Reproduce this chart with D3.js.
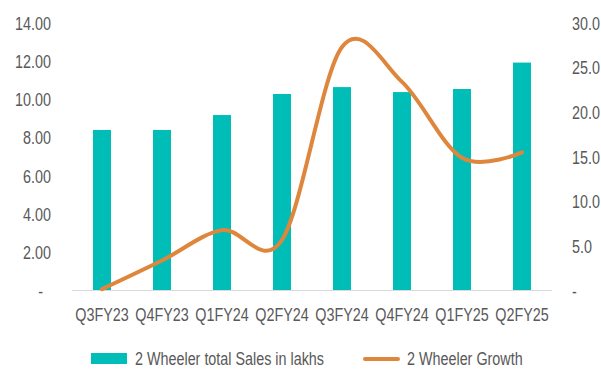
<!DOCTYPE html>
<html>
<head>
<meta charset="utf-8">
<script src="https://cdn.jsdelivr.net/npm/d3@7"></script>
<style>
  html, body { margin: 0; padding: 0; background: #ffffff; }
  svg text { font-family: "Liberation Sans", Arial, sans-serif; fill: #595959; }
</style>
</head>
<body>
<svg id="chart" width="601" height="369"></svg>
<script>
// Quarterly two-wheeler sales (lakh units) and growth (%)
const quarters = ["Q3FY23", "Q4FY23", "Q1FY24", "Q2FY24", "Q3FY24", "Q4FY24", "Q1FY25", "Q2FY25"];
const sales = [8.36, 8.36, 9.14, 10.24, 10.60, 10.34, 10.50, 11.88];
const growth = [0.1, 3.3, 6.7, 5.6, 27.2, 23.3, 14.8, 15.4];
const leftTicks = [0, 2, 4, 6, 8, 10, 12, 14];
const rightTicks = [0, 5, 10, 15, 20, 25, 30];
const seriesNames = ["2 Wheeler total Sales in lakhs", "2 Wheeler Growth"];

const barColor = "#00BDB8";
const lineColor = "#DF863D";
const fontSize = 17.5;
const narrow = 0.82; // horizontal condensing for a narrow-face look

const svg = d3.select("#chart");
const plot = { left: 72, right: 552, top: 22, bottom: 290 };

const x = d3.scaleBand()
  .domain(quarters)
  .range([plot.left, plot.right])
  .paddingInner(0.7)
  .paddingOuter(0.35);

const yLeft = d3.scaleLinear().domain([0, 14]).range([plot.bottom, plot.top]);
const yRight = d3.scaleLinear().domain([0, 30]).range([plot.bottom, plot.top]);

// Condensed label helper: places text at (px, py) and squeezes it horizontally
function label(sel, px, py, anchor) {
  return sel
    .attr("transform", (d, i) => `translate(${px(d, i)},${py(d, i)}) scale(${narrow},1)`)
    .attr("text-anchor", anchor)
    .attr("dominant-baseline", "central")
    .attr("font-size", fontSize);
}

// Bars
svg.append("g")
  .selectAll("rect")
  .data(sales)
  .join("rect")
  .attr("x", (d, i) => x(quarters[i]))
  .attr("y", d => yLeft(d))
  .attr("width", x.bandwidth())
  .attr("height", d => yLeft(0) - yLeft(d))
  .attr("fill", barColor);

// Category axis baseline
svg.append("line")
  .attr("x1", plot.left).attr("x2", plot.right)
  .attr("y1", yLeft(0) + 0.5).attr("y2", yLeft(0) + 0.5)
  .attr("stroke", "#D9D9D9").attr("stroke-width", 1);

// Smoothed growth line
const line = d3.line()
  .x((d, i) => x(quarters[i]) + x.bandwidth() / 2)
  .y(d => yRight(d))
  .curve(d3.curveCardinal.tension(0));

svg.append("path")
  .datum(growth)
  .attr("d", line)
  .attr("fill", "none")
  .attr("stroke", lineColor)
  .attr("stroke-width", 4)
  .attr("stroke-linecap", "round")
  .attr("stroke-linejoin", "round");

// Left axis labels
svg.append("g")
  .selectAll("text")
  .data(leftTicks)
  .join("text")
  .call(label, d => d === 0 ? 43 : 51, d => yLeft(d) + 1.5, "end")
  .text(d => d === 0 ? "-" : d3.format(".2f")(d));

// Right axis labels
svg.append("g")
  .selectAll("text")
  .data(rightTicks)
  .join("text")
  .call(label, () => 572, d => yRight(d) + 1.5, "start")
  .text(d => d === 0 ? "-" : d3.format(".1f")(d));

// Category labels
svg.append("g")
  .selectAll("text")
  .data(quarters)
  .join("text")
  .call(label, d => x(d) + x.bandwidth() / 2, () => 315, "middle")
  .text(d => d);

// Legend
const legend = svg.append("g");
legend.append("rect")
  .attr("x", 91).attr("y", 353)
  .attr("width", 36).attr("height", 11)
  .attr("fill", barColor);
legend.append("line")
  .attr("x1", 365).attr("x2", 398)
  .attr("y1", 359).attr("y2", 359)
  .attr("stroke", lineColor).attr("stroke-width", 4)
  .attr("stroke-linecap", "round");
legend.selectAll("text")
  .data(seriesNames)
  .join("text")
  .call(label, (d, i) => i === 0 ? 135 : 407, () => 359, "start")
  .text(d => d);
</script>
</body>
</html>
